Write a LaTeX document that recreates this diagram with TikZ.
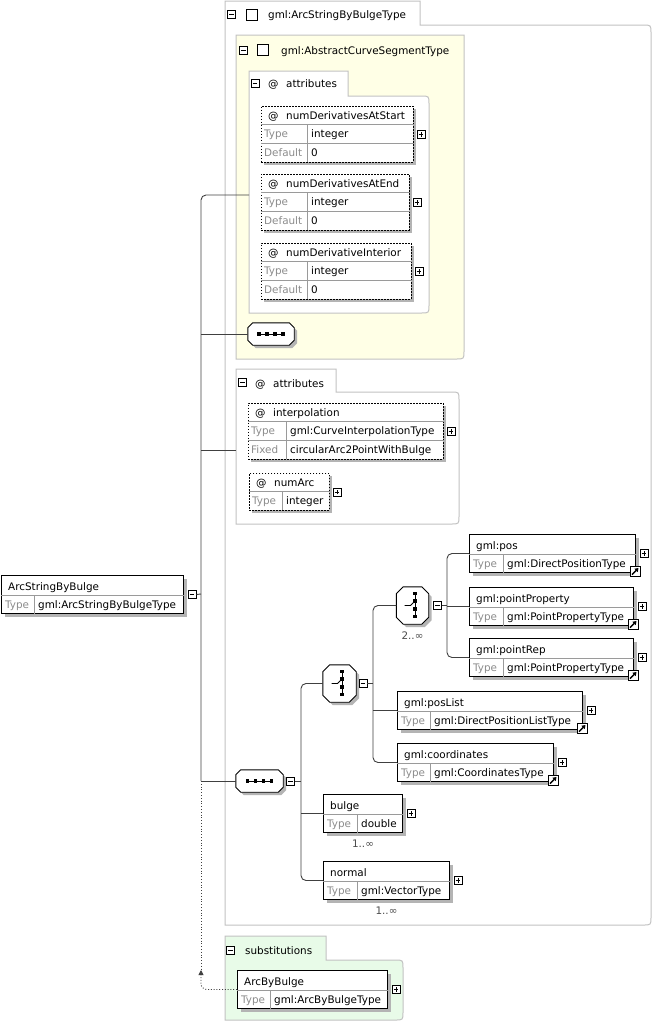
\documentclass[tikz,border=0pt]{standalone}
\usepackage{fontspec}
\setmainfont{DejaVu Sans}
\usetikzlibrary{shadows,arrows.meta,calc}

\definecolor{framegray}{HTML}{C2C2C2}
\definecolor{keygray}{HTML}{8C8C8C}
\definecolor{rowgray}{HTML}{9A9A9A}
\definecolor{shadowgray}{HTML}{B4B4B4}
\definecolor{paleyellow}{HTML}{FFFFE6}
\definecolor{palegreen}{HTML}{E8FBE8}
\definecolor{wirecol}{HTML}{404040}

\tikzset{
  every node/.style={font=\fontsize{10.4}{12}\selectfont},
  txt/.style={anchor=base west, inner sep=0pt},
  keytxt/.style={txt, text=keygray},
  mult/.style={inner sep=0pt, text=black!70},
  boxshadow/.style={drop shadow={shadow xshift=3pt, shadow yshift=-3pt, fill=shadowgray, opacity=1}},
  panelline/.style={draw=framegray, line width=1pt},
  rowline/.style={draw=rowgray, line width=0.8pt},
  wire/.style={draw=wirecol, line width=0.9pt},
  subline/.style={wire, dash pattern=on 1pt off 1.8pt},
  elem/.style={draw, fill=white, line width=1pt, inner sep=0pt, minimum height=38pt, boxshadow},
  attr/.style={draw, fill=white, line width=0.9pt, inner sep=0pt, dash pattern=on 1.5pt off 1.5pt, boxshadow},
  octobox/.style={inner sep=0pt},
  chk/.style={draw, fill=white, inner sep=0pt, minimum size=11pt, line width=0.9pt},
  minus/.style={draw, fill=white, inner sep=0pt, minimum size=8pt, line width=0.8pt,
    path picture={\draw[line width=0.8pt] ([xshift=1.6pt]path picture bounding box.west) -- ([xshift=-1.6pt]path picture bounding box.east);}},
  plus/.style={draw, fill=white, inner sep=0pt, minimum size=8pt, line width=0.8pt,
    path picture={\draw[line width=0.8pt] ([xshift=1.6pt]path picture bounding box.west) -- ([xshift=-1.6pt]path picture bounding box.east)
      ([yshift=1.6pt]path picture bounding box.south) -- ([yshift=-1.6pt]path picture bounding box.north);}},
  linkbox/.style={draw, fill=white, inner sep=0pt, minimum size=10pt, line width=0.8pt,
    path picture={\draw[line width=1.4pt, -{Triangle[length=3.5pt,width=4.5pt]}] ([shift={(2pt,2pt)}]path picture bounding box.south west) -- ([shift={(-1.5pt,-1.5pt)}]path picture bounding box.north east);}},
}

% panel with a tab: x0, tab top, tab right, body top, right, bottom, fill
\newcommand{\panel}[7]{%
  \draw[panelline, fill=#7] (#1,#2) -- (#3,#2) -- (#3,#4) -- (#5-8,#4) .. controls (#5,#4) .. (#5,#4+8)
    -- (#5,#6-8) .. controls (#5,#6) .. (#5-8,#6) -- (#1,#6) -- cycle;
}
% element box: name, top left, width, divider, title, type, toggle
\newcommand{\elembox}[7]{%
  \node[elem, minimum width=#3pt, anchor=north west] (#1) at (#2) {};
  \draw[rowline] ([yshift=-20pt]#1.north west) -- ([yshift=-20pt]#1.north east);
  \draw[rowline] ([xshift=#4pt,yshift=-20pt]#1.north west) -- ([xshift=#4pt]#1.south west);
  \node[txt] (#1-name) at ([xshift=7pt,yshift=-15pt]#1.north west) {#5};
  \node[keytxt] (#1-key) at ([xshift=4pt,yshift=-33pt]#1.north west) {Type};
  \node[txt] (#1-type) at ([xshift=#4pt,xshift=4pt,yshift=-33pt]#1.north west) {#6};
  \node[#7] (#1-tog) at ([xshift=8pt]#1.east) {};
}
% attribute box: name, top left, width, rows, title
\newcommand{\attrbox}[5]{%
  \node[attr, minimum width=#3pt, minimum height=#4*18.5pt, anchor=north west] (#1) at (#2) {};
  \node[txt] (#1-at) at ([xshift=7pt,yshift=-13pt]#1.north west) {@};
  \node[txt] (#1-name) at ([xshift=25pt,yshift=-13pt]#1.north west) {#5};
  \node[plus] (#1-tog) at ([xshift=7pt]#1.east) {};
}
% attribute row: name, row, divider, key, value
\newcommand{\attrrow}[5]{%
  \draw[rowline] ([yshift=-#2*18.5pt]#1.north west) -- ([yshift=-#2*18.5pt]#1.north east);
  \draw[rowline] ([xshift=#3pt,yshift=-#2*18.5pt]#1.north west) -- ([xshift=#3pt,yshift=-#2*18.5pt-18.5pt]#1.north west);
  \node[keytxt] (#1-k#2) at ([xshift=3pt,yshift=-#2*18.5pt-13pt]#1.north west) {#4};
  \node[txt] (#1-v#2) at ([xshift=#3pt,xshift=4pt,yshift=-#2*18.5pt-13pt]#1.north west) {#5};
}
% octagon outline round a node: name, cut
\newcommand{\octagon}[2]{%
  \fill[shadowgray, transform canvas={shift={(3pt,-3pt)}}] ([xshift=#2]#1.north west) -- ([xshift=-#2]#1.north east) -- ([yshift=-#2]#1.north east) -- ([yshift=#2]#1.south east)
    -- ([xshift=-#2]#1.south east) -- ([xshift=#2]#1.south west) -- ([yshift=#2]#1.south west) -- ([yshift=-#2]#1.north west) -- cycle;
  \draw[fill=white, line width=0.9pt] ([xshift=#2]#1.north west) -- ([xshift=-#2]#1.north east) -- ([yshift=-#2]#1.north east) -- ([yshift=#2]#1.south east)
    -- ([xshift=-#2]#1.south east) -- ([xshift=#2]#1.south west) -- ([yshift=#2]#1.south west) -- ([yshift=-#2]#1.north west) -- cycle;
}
% sequence icon
\newcommand{\seqicon}[1]{%
  \draw[line width=1pt] ([xshift=-13pt]#1.center) -- ([xshift=13pt]#1.center);
  \foreach \d in {-12,-4,4,12}
    {\fill[black] ([xshift=\d pt,xshift=-1.7pt,yshift=-1.7pt]#1.center) rectangle ([xshift=\d pt,xshift=1.7pt,yshift=1.7pt]#1.center);}
}
% choice icon
\newcommand{\choiceicon}[1]{%
  \draw[line width=1pt] ([shift={(2.5pt,13pt)}]#1.center) -- ([shift={(2.5pt,-11pt)}]#1.center);
  \draw[line width=0.9pt] ([xshift=-8pt]#1.center) -- ([xshift=-2pt]#1.center) -- ([shift={(2.5pt,4.5pt)}]#1.center);
  \foreach \d in {12,4.5,-3.5,-11}
    {\fill[black] ([xshift=0.8pt,yshift=\d pt,yshift=-1.7pt]#1.center) rectangle ([xshift=4.2pt,yshift=\d pt,yshift=1.7pt]#1.center);}
}

\begin{document}
\begin{tikzpicture}[x=1pt,y=-1pt]
    \useasboundingbox (0,0) rectangle (653,1023);

    % Panels
    \panel{225}{1}{420}{25}{651}{925}{white}
    \draw[panelline, fill=paleyellow] (236,35) -- (464,35) -- (464,351) .. controls (464,359) .. (456,359) -- (236,359) -- cycle;
    \panel{249}{71}{348}{96}{429}{313}{white}
    \panel{236}{369}{336}{392}{459}{524}{white}
    \panel{225}{936}{326}{960}{403}{1020}{palegreen}

    % Panel tabs
    \node[minus] (outerT) at (231.5,14.5) {};
    \node[chk] (outerC) at (251.5,15) {};
    \node[txt] (outerL) at (268,18) {gml:ArcStringByBulgeType};
    \node[minus] (baseT) at (243.5,50) {};
    \node[chk] (baseC) at (263,49.5) {};
    \node[txt] (baseL) at (281,54) {gml:AbstractCurveSegmentType};
    \node[minus] (attrAT) at (255,83) {};
    \node[txt] (attrAat) at (268,87) {@};
    \node[txt] (attrAL) at (286,87) {attributes};
    \node[minus] (attrBT) at (242.5,382.5) {};
    \node[txt] (attrBat) at (255,387) {@};
    \node[txt] (attrBL) at (273,387) {attributes};
    \node[minus] (substT) at (230.5,950) {};
    \node[txt] (substL) at (245,954) {substitutions};

    % Attributes
    \attrbox{atStart}{261,106}{152}{3}{numDerivativesAtStart}
    \attrrow{atStart}{1}{46}{Type}{integer}
    \attrrow{atStart}{2}{46}{Default}{0}
    \attrbox{atEnd}{261,174}{148}{3}{numDerivativesAtEnd}
    \attrrow{atEnd}{1}{46}{Type}{integer}
    \attrrow{atEnd}{2}{46}{Default}{0}
    \attrbox{interior}{261,243}{150}{3}{numDerivativeInterior}
    \attrrow{interior}{1}{46}{Type}{integer}
    \attrrow{interior}{2}{46}{Default}{0}
    \attrbox{interpolation}{248,403}{195}{3}{interpolation}
    \attrrow{interpolation}{1}{38}{Type}{gml:CurveInterpolationType}
    \attrrow{interpolation}{2}{38}{Fixed}{circularArc2PointWithBulge}
    \attrbox{numArc}{249,473}{80}{2}{numArc}
    \attrrow{numArc}{1}{33}{Type}{integer}

    % Elements
    \elembox{root}{1,575}{182}{33}{ArcStringByBulge}{gml:ArcStringByBulgeType}{minus}
    \elembox{pos}{469,534}{166}{34}{gml:pos}{gml:DirectPositionType}{plus}
    \elembox{pointProperty}{469,587}{164}{34}{gml:pointProperty}{gml:PointPropertyType}{plus}
    \elembox{pointRep}{469,638}{164}{34}{gml:pointRep}{gml:PointPropertyType}{plus}
    \elembox{posList}{397,691}{185}{33}{gml:posList}{gml:DirectPositionListType}{plus}
    \elembox{coordinates}{397,743}{156}{33}{gml:coordinates}{gml:CoordinatesType}{plus}
    \elembox{bulge}{323,794}{79}{34}{bulge}{double}{plus}
    \elembox{normal}{323,861}{126}{34}{normal}{gml:VectorType}{plus}
    \elembox{arcByBulge}{237,970}{150}{33}{ArcByBulge}{gml:ArcByBulgeType}{plus}

    % Type links
    \node[linkbox] (posLink) at ([xshift=-1pt,yshift=1.5pt]pos.south east) {};
    \node[linkbox] (pointPropertyLink) at ([xshift=-1pt,yshift=1.5pt]pointProperty.south east) {};
    \node[linkbox] (pointRepLink) at ([xshift=-1pt,yshift=1.5pt]pointRep.south east) {};
    \node[linkbox] (posListLink) at ([xshift=-1pt,yshift=1.5pt]posList.south east) {};
    \node[linkbox] (coordinatesLink) at ([xshift=-1pt,yshift=1.5pt]coordinates.south east) {};

    % Compositors
    \node[octobox, minimum width=46pt, minimum height=22pt] (seqA) at (271,334) {};
    \octagon{seqA}{5pt}
    \seqicon{seqA}
    \node[octobox, minimum width=47pt, minimum height=22pt] (seqMain) at (259.5,781) {};
    \octagon{seqMain}{5pt}
    \seqicon{seqMain}
    \node[minus] (seqMainT) at (290.5,781) {};
    \node[octobox, minimum width=33pt, minimum height=37pt] (choiceA) at (339.5,683.5) {};
    \octagon{choiceA}{7pt}
    \choiceicon{choiceA}
    \node[minus] (choiceAT) at (363,683) {};
    \node[octobox, minimum width=32pt, minimum height=37pt] (choiceB) at (412.5,605.5) {};
    \octagon{choiceB}{7pt}
    \choiceicon{choiceB}
    \node[minus] (choiceBT) at (437.5,605) {};

    % Occurrences
    \node[mult, anchor=north] (choiceBM) at ([yshift=-7pt]choiceB.south) {2..∞};
    \node[mult, anchor=north] (bulgeM) at ([yshift=-7pt]bulge.south) {1..∞};
    \node[mult, anchor=north] (normalM) at ([yshift=-7pt]normal.south) {1..∞};

    % Connectors
    \coordinate (trunk) at (201,594);
    \coordinate (attrAin) at (249,195);
    \coordinate (attrBin) at (236,450);
    \coordinate (substTip) at (201,970);
    \coordinate (seqbar) at (301,781);
    \coordinate (chAbar) at (373,683);
    \coordinate (chBbar) at (447,605);

    \draw[wire] (root-tog.east) -- (trunk);
    \draw[wire, rounded corners=5] (attrAin) -| (trunk) -- (trunk |- seqMain.west);
    \draw[wire] (seqA.west) -- (seqA.west -| trunk);
    \draw[wire] (attrBin) -- (attrBin -| trunk);
    \draw[wire] (seqMain.west) -- (seqMain.west -| trunk);
    \draw[subline] (seqMain.west -| trunk) -- (substTip);
    \draw[subline, rounded corners=6, -{Triangle[length=5pt,width=5pt]}] (arcByBulge.west) -| (substTip);

    \draw[wire] (seqMainT.east) -- (seqbar);
    \draw[wire, rounded corners=5] (choiceA.west) -| (seqbar) |- (normal.west);
    \draw[wire] (bulge.west) -- (bulge.west -| seqbar);
    \draw[wire] (choiceAT.east) -- (chAbar);
    \draw[wire, rounded corners=5] (choiceB.west) -| (chAbar) |- (coordinates.west);
    \draw[wire] (posList.west) -- (posList.west -| chAbar);
    \draw[wire] (choiceBT.east) -- (chBbar);
    \draw[wire, rounded corners=5] (pos.west) -| (chBbar) |- (pointRep.west);
    \draw[wire] (pointProperty.west) -- (pointProperty.west -| chBbar);
\end{tikzpicture}
\end{document}
